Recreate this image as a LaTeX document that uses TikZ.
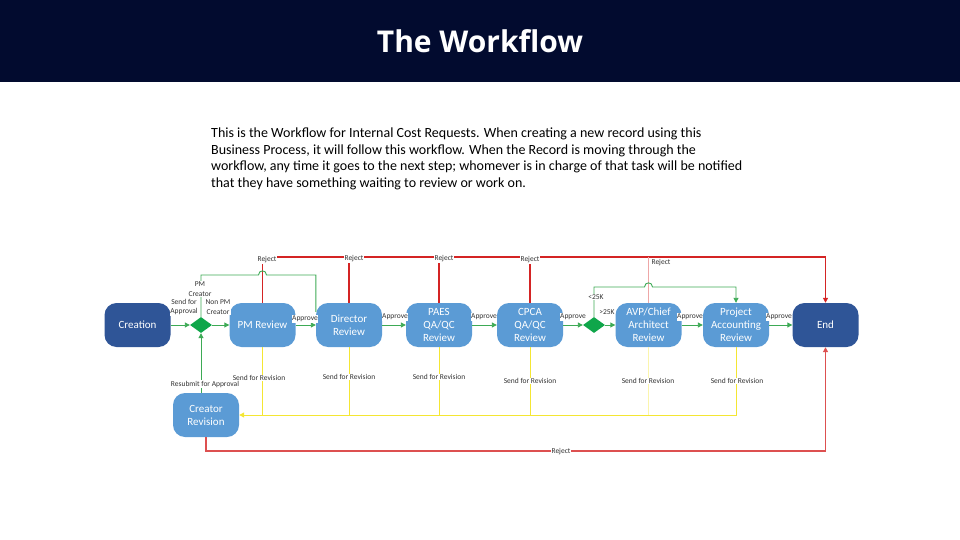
\documentclass[tikz,border=0pt]{standalone}
\usepackage{fontspec}
\setmainfont{Carlito}
\newfontfamily\titlefont{Open Sans}
\usetikzlibrary{arrows.meta,shapes.geometric,calc}
\definecolor{navy}{HTML}{020B2F}
\definecolor{dblue}{HTML}{2F5597}
\definecolor{lblue}{HTML}{5B9BD5}
\definecolor{grn}{HTML}{3DAA55}
\definecolor{dgrn}{HTML}{0FA64A}
\definecolor{rred}{HTML}{D42424}
\definecolor{yel}{HTML}{F4E633}
\tikzset{
  box/.style={rounded corners=12pt, minimum width=66pt, minimum height=44pt, inner sep=1pt,
    align=center, text=white, font=\fontsize{11}{13}\selectfont},
  startbox/.style={box, fill=dblue},
  stepbox/.style={box, fill=lblue},
  gate/.style={diamond, fill=dgrn, minimum width=22pt, minimum height=16pt, inner sep=0pt},
  lbl/.style={font=\fontsize{7.5}{9.5}\selectfont, text=black!80, inner sep=0.6pt, align=center},
  wlbl/.style={lbl, fill=white},
  tip/.style={-{Triangle[length=5pt,width=5pt]}},
  gline/.style={draw=grn, line width=0.9pt},
  garr/.style={gline, tip},
  rline/.style={draw=rred, line width=1.1pt},
  yline/.style={draw=yel, line width=1pt},
}
\begin{document}
\begin{tikzpicture}[x=1pt,y=-1pt]
\useasboundingbox (0,0) rectangle (960,540);
\fill[navy] (0,0) rectangle (960,82);
\node[text=white,font=\titlefont\bfseries\fontsize{30}{36}\selectfont] (title) at (480,41) {The Workflow};
\node[anchor=north west, inner sep=0pt, align=left, font=\fontsize{14}{16.6}\selectfont] (para) at (211,127.5)
 {This is the Workflow for Internal Cost Requests. When creating a new record using this\\
  Business Process, it will follow this workflow. When the Record is moving through the\\
  workflow, any time it goes to the next step; whomever is in charge of that task will be notified\\
  that they have something waiting to review or work on.};

% coordinates for routing levels
\coordinate (rtop) at (0,257);
\coordinate (gtop) at (0,275);
\coordinate (gtwo) at (0,287);
\coordinate (ybot) at (0,415);
\coordinate (rbot) at (0,451);

% nodes
\node[startbox] (cre) at (137.5,325) {Creation};
\node[gate] (d1) at (201,325) {};
\node[stepbox] (pm) at (262.5,325) {PM Review};
\node[stepbox] (dir) at (349,325) {Director\\Review};
\node[stepbox] (paes) at (439,325) {PAES\\QA/QC\\Review};
\node[stepbox] (cpca) at (530,325) {CPCA\\QA/QC\\Review};
\node[gate] (d2) at (594,325) {};
\node[stepbox] (avp) at (648.5,325) {AVP/Chief\\Architect\\Review};
\node[stepbox] (pacc) at (736,325) {Project\\Accounting\\Review};
\node[startbox] (end) at (825.5,325) {End};
\node[stepbox] (crev) at (206,415) {Creator\\Revision};

% reject lines (top)
\draw[rline, tip] (pm.north) |- (end.north |- rtop) -- (end.north);
\draw[rline] (dir.north) -- (dir.north |- rtop);
\draw[rline] (paes.north) -- (paes.north |- rtop);
\draw[rline] (cpca.north) -- (cpca.north |- rtop);
\draw[rline, draw=rred!40] (avp.north) -- (avp.north |- rtop);

% send for revision lines
\draw[yline] (pm.south) -- (pm.south |- ybot);
\draw[yline] (dir.south) -- (dir.south |- ybot);
\draw[yline] (paes.south) -- (paes.south |- ybot);
\draw[yline] (cpca.south) -- (cpca.south |- ybot);
\draw[yline, draw=yel!40] (avp.south) -- (avp.south |- ybot);
\draw[yline, tip] (pacc.south) |- (crev.east);

% bottom reject
\draw[rline, draw=rred!80, tip] (crev.south) |- (end.south |- rbot) -- (end.south);

% approve chain
\draw[garr] (cre) -- (d1);
\draw[garr] (d1) -- (pm);
\draw[garr] (pm) -- (dir);
\draw[garr] (dir) -- (paes);
\draw[garr] (paes) -- (cpca);
\draw[garr] (cpca) -- (d2);
\draw[garr] (d2) -- (avp);
\draw[garr] (avp) -- (pacc);
\draw[garr] (pacc) -- (end);

% PM creator bypass
\draw[gline] (d1.north) -- (d1.north |- gtop) -- (258.5,275) .. controls (258.5,269.5) and (266.5,269.5) .. (266.5,275)
  -- (dir.north west |- gtop) -- ($(dir.north west)+(0,9)$);
% <25K bypass
\draw[garr] (d2.north) -- (d2.north |- gtwo) -- (644.5,287) .. controls (644.5,281.5) and (652.5,281.5) .. (652.5,287)
  -- (pacc.north |- gtwo) -- (pacc.north);
% resubmit
\draw[garr] (d1.south |- crev.north) -- (d1.south);

% labels
\node[wlbl] (l1) at (184,307) {Send for\\Approval};
\node[wlbl] (l2) at (200,289) {PM\\Creator};
\node[wlbl] (l3) at (218,307) {Non PM\\Creator};
\node[wlbl] (l4) at (305,319) {Approve};
\node[wlbl] (l5) at (395,317) {Approve};
\node[wlbl] (l6) at (484,317) {Approve};
\node[wlbl] (l7) at (573,317) {Approve};
\node[wlbl] (l8) at (596,297) {<25K};
\node[wlbl] (l9) at (607,312) {>25K};
\node[wlbl] (l10) at (690,317) {Approve};
\node[wlbl] (l11) at (779,317) {Approve};

\node[wlbl] (r1) at (267,260) {Reject};
\node[wlbl] (r2) at (354,259) {Reject};
\node[wlbl] (r3) at (444,259) {Reject};
\node[wlbl] (r4) at (530,260) {Reject};
\node[wlbl] (r5) at (661,263) {Reject};
\node[wlbl] (r6) at (561,452) {Reject};

\node[wlbl] (s1) at (259,378) {Send for Revision};
\node[wlbl] (s2) at (349,377) {Send for Revision};
\node[wlbl] (s3) at (439,377) {Send for Revision};
\node[wlbl] (s4) at (530,381) {Send for Revision};
\node[wlbl] (s5) at (648,381) {Send for Revision};
\node[wlbl] (s6) at (737,381) {Send for Revision};
\node[wlbl] (s7) at (205,384) {Resubmit for Approval};
\end{tikzpicture}
\end{document}
